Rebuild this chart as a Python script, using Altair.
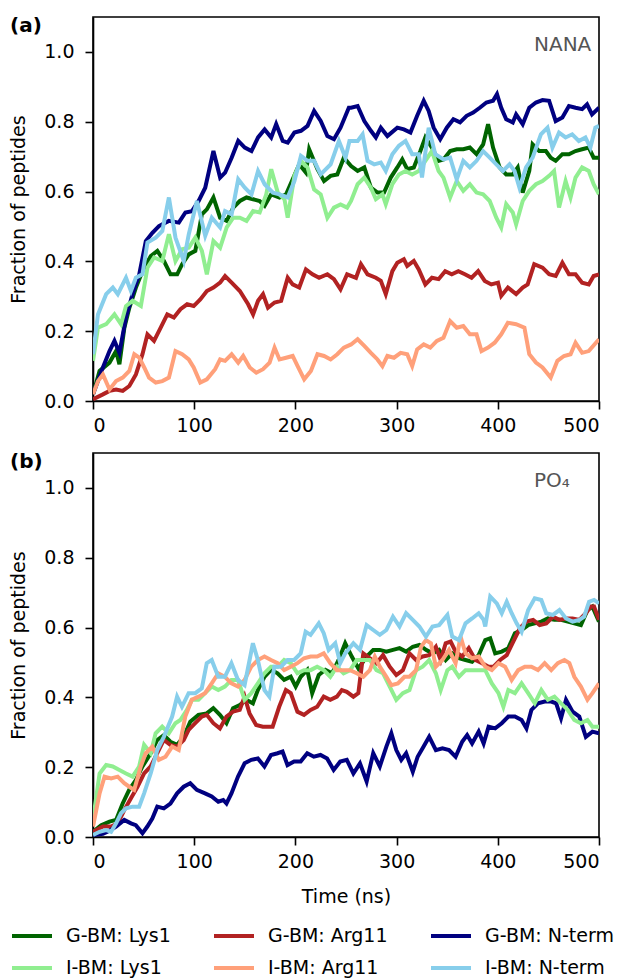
import altair as alt
import pandas as pd

SERIES = ["G-BM: Lys1", "G-BM: Arg11", "G-BM: N-term",
          "I-BM: Lys1", "I-BM: Arg11", "I-BM: N-term"]
COLORS = ["#006400", "#B22222", "#000080", "#90EE90", "#FFA07A", "#87CEEB"]
PANEL_LABELS = ["(a)", "(b)"]
PANEL_NOTES = ["NANA", "PO\u2084"]
X_TICKS = [0, 100, 200, 300, 400, 500]
Y_TICKS = [0.0, 0.2, 0.4, 0.6, 0.8, 1.0]

# ---------------- Panel (a): NANA  (time ns, fraction) ----------------
A_G_LYS1 = [(0,0.019),(6.5,0.086),(16.3,0.110),(22.8,0.143),(26.1,0.105),(31.0,0.210),(35.9,0.267),(42.4,0.325),(48.9,0.372),(57.1,0.415),(63.6,0.430),(70.1,0.401),(76.6,0.363),(83.2,0.363),(88.1,0.392),(94.6,0.420),(101.1,0.430),(107.6,0.535),(112.5,0.549),(119.0,0.583),(125.6,0.525),(132.1,0.516),(138.6,0.554),(145.1,0.573),(151.7,0.583),(158.2,0.578),(164.7,0.573),(169.6,0.559),(176.1,0.592),(184.3,0.583),(190.8,0.592),(197.3,0.635),(203.8,0.678),(210.4,0.654),(213.6,0.721),(221.8,0.664),(228.3,0.630),(234.8,0.645),(241.4,0.649),(247.9,0.697),(255.0,0.673),(261.5,0.659),(268.1,0.669),(274.6,0.611),(281.1,0.597),(287.6,0.597),(294.2,0.640),(300.7,0.669),(305.6,0.692),(310.5,0.664),(317.0,0.669),(323.5,0.716),(328.4,0.755),(334.9,0.726),(341.5,0.688),(346.3,0.692),(352.9,0.716),(359.4,0.721),(365.9,0.721),(372.4,0.726),(379.0,0.707),(385.5,0.735),(390.4,0.793),(395.3,0.726),(401.8,0.669),(408.3,0.649),(414.8,0.649),(419.7,0.669),(424.6,0.597),(431.1,0.659),(434.4,0.735),(440.9,0.716),(447.5,0.716),(452.3,0.697),(457.2,0.688),(463.8,0.707),(470.3,0.707),(476.8,0.716),(483.3,0.721),(489.9,0.726),(494.7,0.697),(500,0.697)]
A_I_LYS1 = [(0,0.115),(4.9,0.210),(13.0,0.220),(21.2,0.248),(27.7,0.220),(32.6,0.272),(39.1,0.287),(47.3,0.272),(53.8,0.382),(60.3,0.411),(68.5,0.401),(75.0,0.478),(81.5,0.401),(88.1,0.435),(94.6,0.439),(101.1,0.468),(107.6,0.430),(112.5,0.363),(119.0,0.458),(125.6,0.439),(132.1,0.497),(138.6,0.525),(145.1,0.525),(151.7,0.516),(158.2,0.544),(164.7,0.540),(171.2,0.592),(176.1,0.664),(182.6,0.597),(189.2,0.578),(192.4,0.525),(199.0,0.645),(205.5,0.688),(212.0,0.669),(218.5,0.606),(225.0,0.592),(231.6,0.525),(238.1,0.554),(244.6,0.563),(251.1,0.554),(255.0,0.573),(261.5,0.621),(268.1,0.640),(274.6,0.611),(279.5,0.578),(286.0,0.592),(289.3,0.564),(295.8,0.621),(302.3,0.649),(308.8,0.659),(315.4,0.649),(321.9,0.659),(328.4,0.688),(334.9,0.716),(341.5,0.659),(346.3,0.640),(352.9,0.583),(359.4,0.630),(365.9,0.602),(372.4,0.621),(379.0,0.597),(385.5,0.592),(392.0,0.573),(398.5,0.525),(403.4,0.497),(408.3,0.564),(414.8,0.540),(418.1,0.506),(424.6,0.573),(431.1,0.602),(437.7,0.621),(444.2,0.630),(450.7,0.645),(455.6,0.659),(460.5,0.554),(467.0,0.630),(471.9,0.583),(476.8,0.640),(483.3,0.669),(489.9,0.659),(494.7,0.621),(500,0.592)]
A_G_ARG11 = [(0,0.005),(9.8,0.019),(16.3,0.029),(22.8,0.033),(29.4,0.029),(35.9,0.043),(42.4,0.076),(48.9,0.134),(53.8,0.191),(60.3,0.172),(66.9,0.210),(73.4,0.248),(79.9,0.239),(86.4,0.263),(93.0,0.277),(99.5,0.272),(106.0,0.291),(112.5,0.315),(119.0,0.325),(125.6,0.339),(130.5,0.358),(137.0,0.339),(145.1,0.315),(153.3,0.277),(158.2,0.248),(163.1,0.287),(168.0,0.306),(172.9,0.267),(179.4,0.282),(185.9,0.287),(192.4,0.353),(197.3,0.334),(203.8,0.325),(210.4,0.377),(216.9,0.363),(223.4,0.353),(231.6,0.363),(238.1,0.349),(244.6,0.320),(251.1,0.363),(259.9,0.353),(264.8,0.392),(271.3,0.363),(279.5,0.353),(284.4,0.344),(289.3,0.306),(295.8,0.372),(300.7,0.396),(307.2,0.406),(310.5,0.387),(317.0,0.401),(321.9,0.377),(328.4,0.334),(334.9,0.353),(341.5,0.349),(348.0,0.372),(354.5,0.363),(361.0,0.372),(367.5,0.363),(374.1,0.353),(380.6,0.372),(387.1,0.344),(393.6,0.334),(400.2,0.339),(403.4,0.301),(410.0,0.325),(418.1,0.306),(424.6,0.325),(429.5,0.334),(436.0,0.392),(444.2,0.382),(450.7,0.363),(457.2,0.358),(463.8,0.396),(470.3,0.363),(476.8,0.363),(483.3,0.339),(489.9,0.334),(494.7,0.358),(500,0.363)]
A_I_ARG11 = [(0,0.019),(4.9,0.057),(9.8,0.076),(16.3,0.033),(22.8,0.057),(29.4,0.067),(35.9,0.086),(40.8,0.134),(45.7,0.124),(50.6,0.096),(55.4,0.067),(62.0,0.053),(68.5,0.057),(75.0,0.067),(81.5,0.143),(88.1,0.134),(94.6,0.119),(99.5,0.096),(106.0,0.053),(112.5,0.062),(120.7,0.091),(125.6,0.119),(130.5,0.115),(137.0,0.134),(143.5,0.110),(148.4,0.129),(154.9,0.096),(161.4,0.081),(168.0,0.091),(174.5,0.110),(179.4,0.153),(184.3,0.119),(190.8,0.124),(197.3,0.129),(202.2,0.100),(208.7,0.062),(215.3,0.086),(221.8,0.134),(228.3,0.129),(234.8,0.119),(241.4,0.134),(247.9,0.153),(255.0,0.162),(261.5,0.177),(268.1,0.158),(274.6,0.138),(281.1,0.119),(286.0,0.100),(290.9,0.129),(297.4,0.124),(304.0,0.138),(310.5,0.134),(315.4,0.100),(320.3,0.148),(326.8,0.162),(333.3,0.153),(339.8,0.172),(346.3,0.181),(352.9,0.229),(359.4,0.210),(365.9,0.215),(372.4,0.191),(379.0,0.191),(383.9,0.143),(390.4,0.153),(396.9,0.167),(403.4,0.191),(410.0,0.224),(418.1,0.220),(426.3,0.210),(431.1,0.134),(437.7,0.110),(444.2,0.096),(452.3,0.067),(458.9,0.115),(465.4,0.129),(471.9,0.134),(476.8,0.167),(483.3,0.138),(489.9,0.143),(500,0.177)]
A_G_NTERM = [(0,0.019),(9.8,0.096),(16.3,0.143),(21.2,0.172),(26.1,0.138),(32.6,0.239),(39.1,0.306),(45.7,0.363),(52.2,0.458),(58.7,0.482),(65.2,0.501),(75.0,0.516),(84.8,0.511),(91.3,0.540),(97.8,0.544),(104.4,0.573),(110.9,0.611),(119.0,0.716),(125.6,0.640),(130.5,0.654),(137.0,0.697),(143.5,0.745),(150.0,0.726),(156.6,0.716),(163.1,0.755),(169.6,0.778),(176.1,0.755),(181.0,0.793),(187.5,0.745),(192.4,0.740),(199.0,0.769),(205.5,0.774),(212.0,0.788),(218.5,0.831),(225.0,0.802),(231.6,0.759),(238.1,0.750),(244.6,0.783),(252.8,0.840),(255.0,0.840),(261.5,0.845),(268.1,0.802),(274.6,0.774),(279.5,0.755),(284.4,0.783),(290.9,0.759),(300.7,0.783),(307.2,0.778),(313.7,0.769),(320.3,0.817),(326.8,0.860),(331.7,0.831),(336.6,0.783),(343.1,0.750),(349.6,0.783),(356.1,0.807),(362.7,0.798),(369.2,0.817),(375.7,0.826),(382.2,0.840),(388.7,0.855),(395.3,0.860),(399.2,0.879),(403.4,0.840),(408.3,0.807),(414.8,0.798),(418.1,0.821),(424.6,0.793),(431.1,0.840),(437.7,0.855),(444.2,0.862),(450.7,0.860),(457.2,0.802),(463.8,0.812),(470.3,0.845),(476.8,0.840),(483.3,0.836),(488.2,0.850),(493.1,0.821),(500,0.840)]
A_I_NTERM = [(0,0.134),(4.9,0.248),(13.0,0.306),(19.6,0.325),(24.5,0.306),(32.6,0.353),(37.5,0.315),(42.4,0.353),(48.9,0.363),(53.8,0.454),(62.0,0.468),(68.5,0.487),(75.0,0.583),(81.5,0.468),(89.7,0.401),(94.6,0.477),(102.7,0.573),(110.9,0.473),(117.4,0.525),(125.6,0.497),(130.5,0.544),(137.0,0.535),(143.5,0.635),(150.0,0.611),(156.6,0.592),(163.1,0.659),(169.6,0.621),(177.8,0.597),(184.3,0.592),(192.4,0.583),(199.0,0.630),(205.5,0.702),(212.0,0.688),(218.5,0.688),(225.0,0.649),(234.8,0.678),(243.0,0.745),(249.5,0.697),(253.4,0.745),(261.5,0.745),(266.4,0.764),(271.3,0.688),(277.9,0.678),(284.4,0.683),(289.3,0.659),(295.8,0.707),(302.3,0.731),(308.8,0.745),(315.4,0.707),(321.9,0.707),(325.1,0.640),(331.7,0.783),(338.2,0.707),(346.3,0.692),(352.9,0.697),(359.4,0.635),(365.9,0.688),(372.4,0.669),(379.0,0.688),(385.5,0.716),(392.0,0.697),(398.5,0.678),(405.1,0.659),(411.6,0.678),(416.5,0.659),(421.4,0.611),(427.9,0.669),(434.4,0.697),(442.6,0.764),(449.1,0.783),(454.0,0.726),(460.5,0.769),(467.0,0.755),(473.5,0.764),(480.1,0.745),(486.6,0.755),(491.5,0.726),(496.4,0.783),(500,0.788)]

# ---------------- Panel (b): PO4  (time ns, fraction) ----------------
B_G_LYS1 = [(0,0.015),(8.1,0.034),(16.3,0.044),(22.8,0.049),(29.3,0.096),(35.8,0.135),(42.3,0.163),(48.9,0.202),(57.0,0.240),(63.5,0.278),(70.0,0.292),(76.5,0.273),(83.1,0.264),(89.6,0.287),(96.1,0.330),(104.2,0.350),(112.4,0.354),(118.9,0.369),(125.4,0.350),(131.9,0.326),(138.4,0.369),(145.0,0.378),(151.5,0.393),(158.0,0.383),(162.9,0.421),(169.4,0.459),(175.9,0.479),(182.4,0.469),(188.9,0.450),(195.4,0.459),(200.3,0.431),(205.2,0.459),(211.7,0.479),(216.6,0.412),(223.1,0.464),(229.6,0.479),(236.2,0.469),(242.7,0.507),(249.2,0.555),(255.7,0.517),(262.2,0.483),(270.4,0.517),(276.9,0.536),(283.4,0.536),(289.9,0.531),(296.4,0.536),(302.9,0.541),(309.4,0.531),(316.0,0.545),(322.5,0.550),(329.0,0.536),(335.5,0.526),(342.0,0.536),(348.5,0.507),(355.0,0.526),(361.6,0.512),(368.1,0.507),(374.6,0.502),(381.1,0.521),(387.6,0.564),(392.5,0.569),(397.4,0.526),(403.9,0.531),(410.4,0.541),(416.9,0.584),(423.5,0.593),(430.0,0.607),(436.5,0.612),(443.0,0.617),(449.5,0.626),(456.0,0.622),(462.5,0.622),(469.1,0.617),(475.6,0.612),(482.1,0.607),(488.6,0.650),(493.5,0.660),(500,0.617)]
B_I_LYS1 = [(0,0.049),(6.5,0.182),(13.0,0.206),(19.5,0.202),(26.1,0.192),(32.6,0.182),(39.1,0.173),(45.6,0.202),(50.5,0.264),(57.0,0.240),(61.9,0.297),(68.4,0.316),(74.9,0.297),(81.4,0.326),(86.3,0.335),(92.8,0.364),(97.7,0.393),(104.2,0.393),(110.7,0.412),(117.3,0.431),(123.8,0.421),(130.3,0.431),(136.8,0.450),(143.3,0.450),(149.8,0.393),(156.4,0.412),(162.9,0.440),(169.4,0.469),(175.9,0.488),(182.4,0.488),(188.9,0.507),(195.4,0.498),(202.0,0.469),(208.5,0.478),(215.0,0.478),(221.5,0.488),(228.0,0.478),(234.5,0.459),(241.0,0.488),(247.6,0.469),(254.1,0.478),(260.6,0.507),(267.1,0.507),(273.6,0.507),(280.1,0.478),(286.6,0.469),(293.2,0.431),(299.7,0.393),(306.2,0.412),(312.7,0.421),(319.2,0.478),(325.7,0.488),(332.2,0.507),(338.8,0.469),(343.6,0.421),(350.2,0.478),(355.0,0.488),(361.6,0.459),(368.1,0.478),(374.6,0.478),(381.1,0.478),(387.6,0.478),(394.1,0.440),(400.7,0.412),(405.5,0.373),(410.4,0.421),(416.9,0.412),(423.5,0.440),(430.0,0.412),(436.5,0.383),(443.0,0.421),(449.5,0.393),(456.0,0.402),(462.5,0.383),(469.1,0.364),(475.6,0.335),(482.1,0.326),(488.6,0.335),(493.5,0.316),(500,0.316)]
B_G_ARG11 = [(0,0.015),(9.8,0.030),(17.9,0.030),(24.4,0.039),(30.9,0.077),(37.5,0.111),(44.0,0.144),(50.5,0.182),(57.0,0.202),(63.5,0.240),(70.0,0.278),(76.5,0.264),(83.1,0.259),(89.6,0.278),(94.5,0.307),(101.0,0.326),(107.5,0.345),(112.4,0.350),(118.9,0.326),(125.4,0.311),(131.9,0.345),(138.4,0.359),(145.0,0.364),(149.8,0.402),(154.7,0.354),(161.2,0.321),(167.8,0.316),(177.5,0.316),(184.0,0.373),(190.6,0.421),(195.4,0.412),(202.0,0.359),(208.5,0.350),(215.0,0.364),(221.5,0.373),(228.0,0.402),(234.5,0.393),(241.0,0.402),(245.9,0.421),(250.8,0.416),(257.3,0.402),(262.2,0.412),(267.1,0.526),(273.6,0.512),(280.1,0.498),(286.6,0.521),(293.2,0.488),(299.7,0.464),(306.2,0.478),(312.7,0.526),(319.2,0.507),(325.7,0.517),(332.2,0.521),(338.8,0.545),(343.6,0.507),(348.5,0.555),(353.4,0.560),(358.3,0.531),(364.8,0.517),(371.3,0.541),(377.9,0.507),(384.4,0.498),(390.9,0.488),(395.8,0.488),(402.3,0.507),(408.8,0.521),(415.3,0.560),(421.8,0.598),(428.3,0.617),(434.9,0.622),(441.4,0.607),(447.9,0.612),(454.4,0.631),(460.9,0.622),(467.4,0.626),(473.9,0.626),(480.5,0.622),(487.0,0.641),(491.9,0.660),(495.1,0.660),(500,0.622)]
B_I_ARG11 = [(0,0.030),(6.5,0.125),(11.4,0.173),(17.9,0.168),(24.4,0.173),(30.9,0.154),(35.8,0.144),(40.7,0.135),(47.2,0.202),(52.1,0.240),(58.6,0.259),(65.1,0.221),(71.7,0.230),(78.2,0.259),(84.7,0.249),(91.2,0.345),(97.7,0.393),(104.2,0.402),(110.7,0.412),(117.3,0.440),(123.8,0.469),(130.3,0.459),(136.8,0.440),(143.3,0.431),(149.8,0.450),(156.4,0.488),(162.9,0.507),(169.4,0.517),(175.9,0.507),(182.4,0.498),(188.9,0.478),(195.4,0.488),(202.0,0.498),(208.5,0.512),(215.0,0.517),(221.5,0.517),(228.0,0.526),(234.5,0.498),(241.0,0.478),(247.6,0.478),(254.1,0.478),(260.6,0.469),(267.1,0.459),(273.6,0.478),(278.5,0.517),(283.4,0.488),(289.9,0.459),(294.8,0.435),(301.3,0.440),(307.8,0.459),(312.7,0.459),(319.2,0.478),(324.1,0.545),(329.0,0.564),(333.9,0.555),(338.8,0.488),(345.3,0.507),(351.8,0.536),(358.3,0.498),(363.2,0.574),(368.1,0.526),(374.6,0.512),(381.1,0.517),(387.6,0.488),(394.1,0.478),(400.7,0.498),(407.2,0.488),(413.7,0.450),(420.2,0.478),(426.7,0.488),(433.2,0.488),(439.7,0.478),(446.3,0.498),(452.8,0.478),(459.3,0.498),(465.8,0.507),(470.7,0.498),(475.6,0.459),(482.1,0.431),(488.6,0.393),(493.5,0.412),(500,0.440)]
B_G_NTERM = [(0,0.006),(9.8,0.009),(16.3,0.018),(22.8,0.030),(30.9,0.049),(37.5,0.039),(42.3,0.034),(48.9,0.011),(53.7,0.030),(58.6,0.053),(63.5,0.087),(70.0,0.082),(76.5,0.096),(83.1,0.125),(89.6,0.144),(96.1,0.154),(102.6,0.135),(110.7,0.125),(117.3,0.116),(123.8,0.101),(128.7,0.106),(131.9,0.096),(136.8,0.125),(143.3,0.173),(149.8,0.211),(156.4,0.221),(162.9,0.225),(169.4,0.202),(175.9,0.235),(182.4,0.240),(187.3,0.245),(192.2,0.206),(198.7,0.216),(205.2,0.216),(211.7,0.240),(218.2,0.230),(224.8,0.235),(231.3,0.225),(237.8,0.192),(244.3,0.216),(250.8,0.221),(257.3,0.182),(263.8,0.211),(270.4,0.159),(276.9,0.240),(283.4,0.202),(289.9,0.259),(294.8,0.297),(299.7,0.249),(304.6,0.221),(309.4,0.240),(316.0,0.187),(320.8,0.230),(325.7,0.254),(332.2,0.287),(338.8,0.249),(345.3,0.254),(351.8,0.249),(358.3,0.230),(364.8,0.273),(369.7,0.292),(374.6,0.268),(381.1,0.302),(386.0,0.268),(390.9,0.316),(397.4,0.311),(403.9,0.326),(410.4,0.345),(416.9,0.345),(423.5,0.335),(428.3,0.311),(433.2,0.364),(439.7,0.383),(446.3,0.388),(452.8,0.388),(457.7,0.383),(462.5,0.340),(467.4,0.393),(473.9,0.359),(480.5,0.345),(487.0,0.287),(493.5,0.302),(500,0.297)]
B_I_NTERM = [(0,0.006),(6.5,0.015),(13.0,0.020),(17.9,0.015),(22.8,0.039),(27.7,0.068),(32.6,0.082),(39.1,0.087),(45.6,0.087),(50.5,0.125),(57.0,0.182),(63.5,0.249),(70.0,0.287),(78.2,0.345),(83.1,0.402),(87.9,0.373),(94.5,0.412),(101.0,0.412),(107.5,0.426),(112.4,0.498),(117.3,0.507),(123.8,0.459),(130.3,0.459),(136.8,0.498),(143.3,0.450),(149.8,0.435),(158.0,0.555),(162.9,0.507),(169.4,0.421),(174.3,0.402),(179.2,0.488),(185.7,0.488),(192.2,0.507),(198.7,0.507),(205.2,0.526),(210.1,0.588),(215.0,0.579),(223.1,0.612),(228.0,0.584),(232.9,0.536),(239.4,0.555),(244.3,0.498),(249.2,0.526),(257.3,0.555),(263.8,0.536),(270.4,0.607),(276.9,0.593),(283.4,0.579),(289.9,0.593),(296.4,0.631),(302.9,0.603),(309.4,0.641),(316.0,0.622),(322.5,0.603),(329.0,0.574),(335.5,0.603),(342.0,0.607),(350.2,0.636),(355.0,0.574),(361.6,0.564),(368.1,0.612),(374.6,0.626),(381.1,0.641),(386.0,0.622),(387.6,0.603),(392.5,0.689),(399.0,0.669),(403.9,0.641),(408.8,0.674),(413.7,0.641),(418.6,0.612),(423.5,0.588),(430.0,0.650),(436.5,0.684),(443.0,0.679),(447.9,0.641),(454.4,0.636),(460.9,0.650),(467.4,0.626),(473.9,0.617),(480.5,0.622),(485.3,0.631),(490.2,0.674),(495.1,0.679),(500,0.669)]

PANELS = [
    [A_G_LYS1, A_G_ARG11, A_G_NTERM, A_I_LYS1, A_I_ARG11, A_I_NTERM],
    [B_G_LYS1, B_G_ARG11, B_G_NTERM, B_I_LYS1, B_I_ARG11, B_I_NTERM],
]

FONT = "DejaVu Sans"
PLOT_W = 506
PLOT_H = 384


def make_panel(k):
    rows = []
    for name, pts in zip(SERIES, PANELS[k]):
        for t, v in pts:
            rows.append({"series": name, "t": t, "v": v})
    df = pd.DataFrame(rows)
    bottom = (k == 1)
    x_axis = alt.Axis(values=X_TICKS, format="d",
                      title="Time (ns)" if bottom else None)
    lines = alt.Chart(df).mark_line(strokeWidth=4, clip=True).encode(
        x=alt.X("t:Q", scale=alt.Scale(domain=[0, 500], nice=False), axis=x_axis),
        y=alt.Y("v:Q", scale=alt.Scale(domain=[0, 1.1], nice=False),
                axis=alt.Axis(values=Y_TICKS, format=".1f", title="Fraction of peptides")),
        color=alt.Color("series:N", scale=alt.Scale(domain=SERIES, range=COLORS),
                        legend=alt.Legend(title=None, orient="none", legendX=-83, legendY=897,
                                          columns=3, direction="horizontal",
                                          symbolType="stroke", symbolSize=1600,
                                          symbolStrokeWidth=4, labelFontSize=19,
                                          labelFont=FONT, labelColor="black",
                                          labelOffset=12, columnPadding=35, rowPadding=-4)),
    )
    note = alt.Chart(pd.DataFrame({"txt": [PANEL_NOTES[k]]})).mark_text(
        align="left", baseline="middle", fontSize=20, font=FONT, color="#555555"
    ).encode(text="txt:N", x=alt.value(441), y=alt.value(28))
    lab = alt.Chart(pd.DataFrame({"txt": [PANEL_LABELS[k]]})).mark_text(
        align="left", baseline="middle", fontSize=20, font=FONT, fontWeight="bold", color="black"
    ).encode(text="txt:N", x=alt.value(-83), y=alt.value(9))
    return alt.layer(lines, note, lab).properties(width=PLOT_W, height=PLOT_H)


chart = alt.vconcat(make_panel(0), make_panel(1), spacing=15).properties(
    padding={"left": 0, "top": 7, "right": 0, "bottom": 0}
).configure_view(
    stroke="black", strokeWidth=1.6
).configure_axis(
    grid=False, labelFont=FONT, titleFont=FONT, labelFontSize=19, titleFontSize=19,
    labelColor="black", titleColor="black", titleFontWeight="normal",
    tickColor="black", tickSize=8, tickWidth=1.6, domainColor="black", domainWidth=1.6
).configure_axisY(
    labelPadding=11, titlePadding=15
).configure_axisX(
    labelPadding=7, titlePadding=16
)

chart.save("out.html", embed_options={"renderer": "svg", "actions": False})
